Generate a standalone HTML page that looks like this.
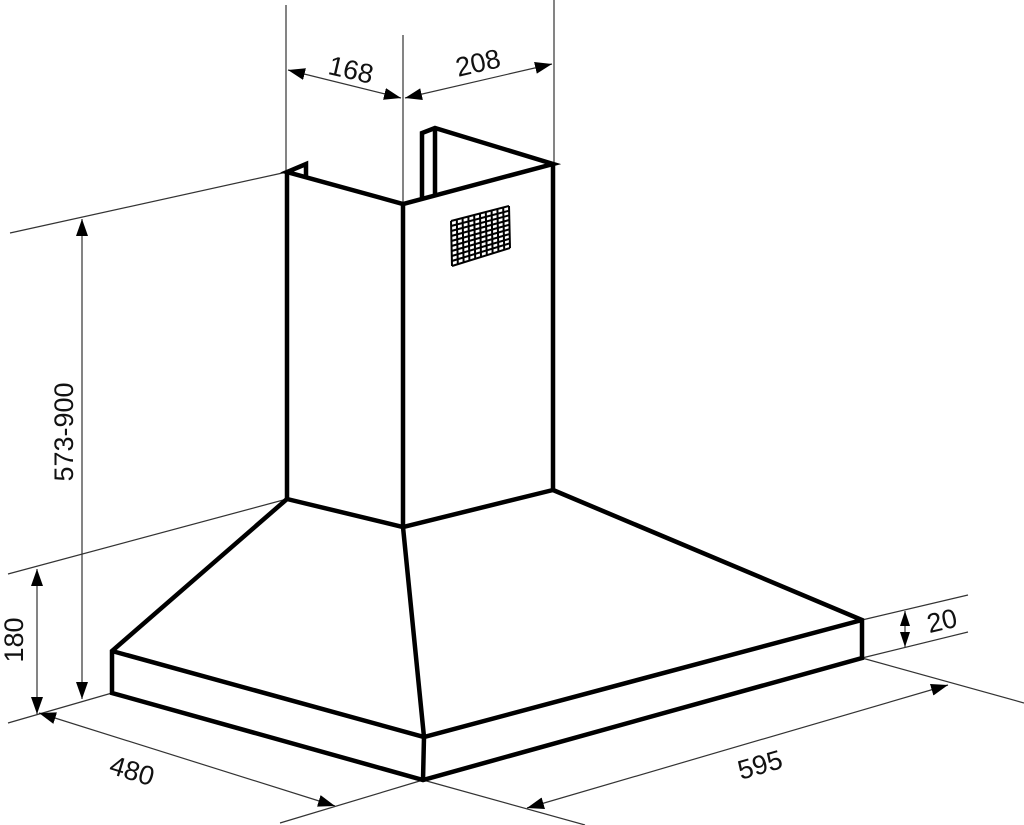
<!DOCTYPE html>
<html><head><meta charset="utf-8"><style>
html,body{margin:0;padding:0;background:#fff;}
svg{display:block;}
text{font-family:"Liberation Sans",sans-serif;font-size:27px;fill:#111;}
</style></head><body>
<svg width="1024" height="825" viewBox="0 0 1024 825" xmlns="http://www.w3.org/2000/svg">
<defs>
<marker id="b" viewBox="0 0 10 10" refX="10" refY="5" markerWidth="17" markerHeight="12" markerUnits="userSpaceOnUse" orient="auto-start-reverse" preserveAspectRatio="none">
<path d="M0,0 L10,5 L0,10 Z" fill="#000"/></marker>
<marker id="s" viewBox="0 0 10 10" refX="10" refY="5" markerWidth="15" markerHeight="10" markerUnits="userSpaceOnUse" orient="auto-start-reverse" preserveAspectRatio="none">
<path d="M0,0 L10,5 L0,10 Z" fill="#000"/></marker>
</defs>
<g stroke="#333" stroke-width="1.2" fill="none">
<line x1="286" y1="5" x2="286" y2="172"/>
<line x1="403" y1="35" x2="403" y2="204"/>
<line x1="554" y1="0" x2="554" y2="164"/>
<line x1="10" y1="233" x2="287" y2="172"/>
<line x1="8" y1="574" x2="287" y2="499"/>
<line x1="8" y1="723" x2="112" y2="693"/>
<line x1="280" y1="823" x2="423" y2="780"/>
<line x1="423" y1="780" x2="585" y2="825"/>
<line x1="862" y1="620" x2="968" y2="595"/>
<line x1="862" y1="658" x2="968" y2="632"/>
<line x1="862" y1="658" x2="1024" y2="703"/>
</g>
<g stroke="#333" stroke-width="1.2" fill="none">
<line x1="288" y1="70" x2="401" y2="98" marker-start="url(#b)" marker-end="url(#b)"/>
<line x1="405" y1="98" x2="552" y2="64" marker-start="url(#b)" marker-end="url(#b)"/>
<line x1="82" y1="219" x2="82" y2="699" marker-start="url(#b)" marker-end="url(#b)"/>
<line x1="37" y1="569" x2="37" y2="714" marker-start="url(#b)" marker-end="url(#b)"/>
<line x1="39" y1="713" x2="335" y2="806" marker-start="url(#b)" marker-end="url(#b)"/>
<line x1="527" y1="808" x2="948" y2="685" marker-start="url(#b)" marker-end="url(#b)"/>
<line x1="905" y1="611" x2="905" y2="647" marker-start="url(#s)" marker-end="url(#s)"/>
</g>
<g stroke="#000" stroke-width="4.5" fill="none" stroke-linejoin="miter">
<polyline points="306,178 306,164 287,172 403,204 553,164 435,128 422,133 422,198"/>
<line x1="435" y1="128" x2="435" y2="194"/>
<line x1="287" y1="172" x2="287" y2="499"/>
<line x1="403" y1="204" x2="403" y2="527"/>
<line x1="553" y1="164" x2="553" y2="490"/>
<polyline points="287,499 403,527 553,490"/>
<polyline points="287,499 112,651 112,693 423,780 862,658 862,620 553,490"/>
<polyline points="112,651 424,737 862,620"/>
<line x1="403" y1="527" x2="424" y2="737"/>
<line x1="424" y1="737" x2="423" y2="780"/>
</g>
<g stroke="#000" stroke-width="2" fill="none">
<line x1="451" y1="221" x2="452" y2="266"/>
<line x1="456.8" y1="219.5" x2="457.8" y2="264.2"/>
<line x1="462.6" y1="218" x2="463.6" y2="262.4"/>
<line x1="468.4" y1="216.5" x2="469.4" y2="260.6"/>
<line x1="474.2" y1="215" x2="475.2" y2="258.8"/>
<line x1="480" y1="213.5" x2="481" y2="257"/>
<line x1="485.8" y1="212" x2="486.8" y2="255.2"/>
<line x1="491.6" y1="210.5" x2="492.6" y2="253.4"/>
<line x1="497.4" y1="209" x2="498.4" y2="251.6"/>
<line x1="503.2" y1="207.5" x2="504.2" y2="249.8"/>
<line x1="509" y1="206" x2="510" y2="248"/>
<line x1="451" y1="221" x2="509" y2="206"/>
<line x1="451.1" y1="226" x2="509.1" y2="210.7"/>
<line x1="451.2" y1="231" x2="509.2" y2="215.3"/>
<line x1="451.3" y1="236" x2="509.3" y2="220"/>
<line x1="451.4" y1="241" x2="509.4" y2="224.7"/>
<line x1="451.6" y1="246" x2="509.6" y2="229.3"/>
<line x1="451.7" y1="251" x2="509.7" y2="234"/>
<line x1="451.8" y1="256" x2="509.8" y2="238.7"/>
<line x1="451.9" y1="261" x2="509.9" y2="243.3"/>
<line x1="452" y1="266" x2="510" y2="248"/>
</g>
<text x="351" y="79" text-anchor="middle" transform="rotate(13 351 70)">168</text>
<text x="478" y="72" text-anchor="middle" transform="rotate(-13 478 63)">208</text>
<text x="64" y="441" text-anchor="middle" transform="rotate(-90 64 432)">573-900</text>
<text x="14" y="649" text-anchor="middle" transform="rotate(-90 14 640)">180</text>
<text x="132" y="780" text-anchor="middle" transform="rotate(17 132 771)">480</text>
<text x="760" y="774" text-anchor="middle" transform="rotate(-16 760 765)">595</text>
<text x="942" y="630" text-anchor="middle" transform="rotate(-13 942 621)">20</text>
</svg>
</body></html>
